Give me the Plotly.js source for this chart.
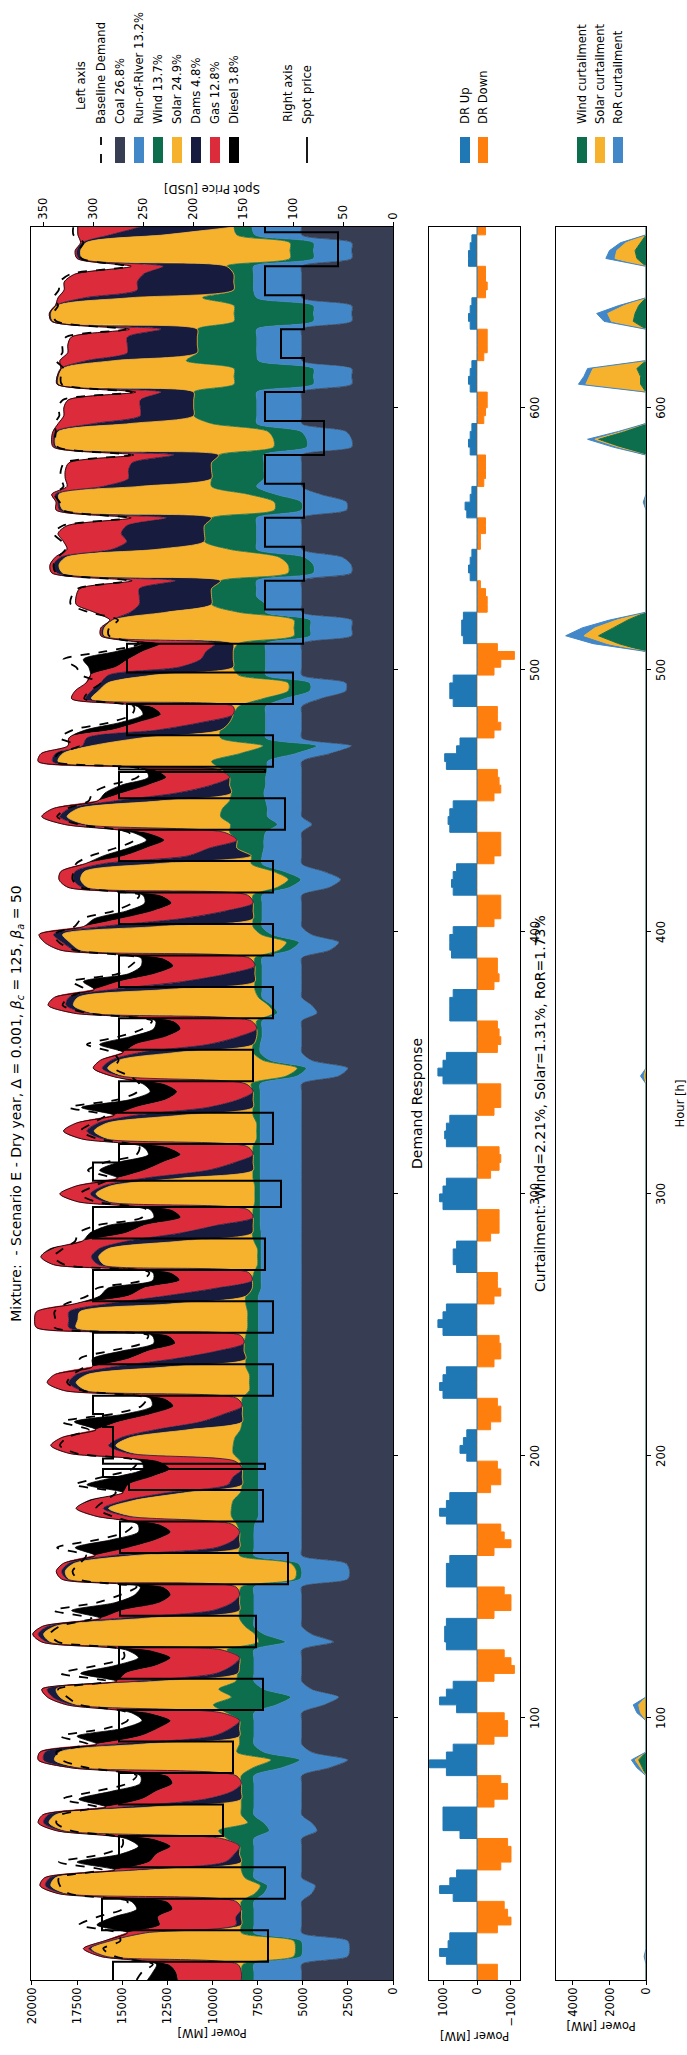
<!DOCTYPE html>
<html><head><meta charset="utf-8">
<script src="https://cdn.plot.ly/plotly-3.0.1.min.js"></script>
<style>
html,body{margin:0;padding:0;width:687px;height:2055px;overflow:hidden;background:#fff;}
#wrap{position:absolute;left:0;top:0;width:2055px;height:687px;transform-origin:0 0;transform:translate(0px,2055px) rotate(-90deg);}
#chart{width:2055px;height:687px;}
</style></head><body><div id="wrap"><div id="chart"></div></div>
<script>
// ---- data: one row per day, samples every 3 hours (offsets 0,3,...,21) ----
const coal = [
5050,5050,5050,2500,2400,2500,5050,5050,
5050,5050,5050,4500,4300,5050,5050,5050,
5050,5050,5050,4200,4500,5050,5050,5050,
5050,5050,5050,3500,2500,4500,5050,5050,
5050,5050,5050,3800,3000,4500,5050,5050,
5050,5050,5050,3300,4500,5050,5050,5050,
5050,5050,5050,2500,2400,2600,5050,5050,
5050,5050,5050,5050,5050,5050,5050,5050,
5050,5050,5050,5050,5050,5050,5050,5050,
5050,5050,5050,5050,5050,5050,5050,5050,
5050,5050,5050,5050,5050,5050,5050,5050,
5050,5050,5050,5050,5050,5050,5050,5050,
5050,5050,5050,5050,5050,5050,5050,5050,
5050,5050,5050,5050,5050,5050,5050,5050,
5050,5050,5050,3000,2500,4500,5050,5050,
5050,5050,5050,4200,4500,5050,5050,5050,
5050,5050,5050,3500,3000,4500,5050,5050,
5050,5050,5050,3500,2900,3800,5050,5050,
5050,5050,5050,4500,5050,5050,5050,5050,
5050,5050,5050,5050,3500,2300,5050,5050,
5050,5050,5050,4000,2600,2600,5050,5050,
5050,5050,5050,2280,2280,2280,5050,5050,
5050,5050,5050,2300,2300,2800,5050,5050,
5050,5050,5050,2560,2560,4000,5050,5050,
5050,5050,5050,2280,2280,2600,5050,5050,
5050,5050,5050,2280,2280,2280,5050,5050,
5050,5050,5050,2280,2280,2280,5050,5050,
5050,5050,5050,2280,2280,2280,5050,5050];
const ror = [
2650,2650,2650,2600,2600,2600,2650,2650,
2650,2650,2650,2650,2650,2650,2650,2650,
2650,2650,2650,2650,2650,2650,2650,2650,
2650,2650,2650,2650,2650,2650,2650,2650,
2650,2650,2650,2650,2650,2650,2650,2650,
2650,2650,2650,2650,2650,2650,2650,2650,
2650,2650,2650,2650,2650,2650,2650,2650,
2650,2650,2600,2400,2400,2400,2400,2400,
2400,2400,2400,2400,2400,2400,2400,2400,
2400,2400,2400,2400,2400,2400,2400,2400,
2400,2400,2400,2400,2400,2400,2400,2400,
2250,2250,2250,2250,2250,2250,2250,2250,
2300,2300,2300,2300,2300,2300,2300,2300,
2300,2300,2300,2300,2300,2300,2300,2300,
2300,2300,2300,2300,2300,2300,2300,2300,
2200,2200,2200,2200,2200,2200,2200,2200,
2200,2200,2200,2200,2200,2200,2200,2200,
2200,2200,2200,2200,2200,2200,2200,2200,
2100,2100,2000,1900,1900,1900,2000,2100,
2000,2000,1900,1900,1900,1900,2000,2000,
2000,2000,2000,2000,2000,2000,2000,2000,
2000,2000,2000,2300,2300,2300,2000,2000,
2500,2500,2500,2100,2100,2100,2500,2500,
2500,2500,2500,2500,2500,2500,2500,2100,
2100,2100,2100,2490,2490,2490,2490,2490,
2490,2490,2490,2120,2120,2120,2400,2490,
2490,2490,2490,2120,2120,2120,2500,2670,
2670,2670,2670,2120,2120,2120,2600,2760];
const wind = [
700,700,600,400,400,400,700,700,
700,700,700,500,400,500,700,700,
800,800,1500,2800,900,700,700,700,
700,700,700,1600,1600,1500,800,800,
800,800,1500,3500,3300,2500,1000,900,
800,800,1500,1500,500,500,800,800,
800,800,700,300,300,400,800,800,
800,800,1000,1500,1500,1400,1000,900,
900,900,1000,1400,1400,1300,1000,900,
900,900,900,500,500,500,700,700,
800,800,700,600,600,600,700,700,
500,500,400,200,200,200,400,500,
400,400,400,300,300,300,400,400,
400,400,400,200,200,200,400,400,
400,400,500,600,500,400,400,400,
300,300,300,200,200,200,400,400,
400,400,400,600,700,600,500,500,
500,500,500,700,700,600,600,600,
1500,1500,2000,2600,2600,2500,2000,1800,
2000,2000,2500,3100,3100,3000,2500,2500,
2000,1800,1500,1200,1200,1200,1500,1800,
1800,1800,1500,900,900,900,1500,3000,
2500,2500,2000,1400,1400,1400,1500,2900,
2900,2900,2500,1500,1500,1500,2500,2900,
2900,2900,2500,1840,1840,1840,2500,3500,
3500,3500,3500,4400,4400,4400,4000,3300,
3300,3300,3300,4400,4400,4400,3000,1100,
1100,1100,1500,1300,1300,1300,1000,1000];
const solar = [
0,0,300,10300,11300,10000,5100,0,
0,0,300,10400,11600,10500,5200,0,
0,0,300,8500,11000,10300,5000,0,
0,0,300,9500,12000,9800,5400,0,
0,0,300,7500,9500,9000,4300,0,
0,0,300,11500,11700,10500,5300,0,
0,0,300,12500,12800,12000,5800,0,
0,0,300,5500,6800,5500,3000,0,
0,0,300,5500,6500,5800,2900,0,
0,0,300,9000,9600,9000,4300,0,
0,0,300,9500,9400,9300,4200,0,
0,0,300,8500,8800,8300,4000,0,
0,0,300,8000,8800,8000,4000,0,
0,0,300,8200,9000,8300,4000,0,
0,0,300,9000,10500,8000,4200,0,
0,0,300,10000,10800,10000,4900,0,
0,0,300,11000,12000,11000,5400,0,
0,0,300,10500,11500,10500,5200,0,
0,0,300,8000,8500,8000,3800,0,
0,0,300,8500,9800,9500,4400,0,
0,0,300,9500,10500,10000,4700,0,
0,0,300,10500,10500,10000,4000,0,
0,0,0,12500,12700,11800,4000,0,
0,0,0,11700,11900,10500,4000,0,
0,0,0,12000,12100,11600,4500,0,
0,0,0,9700,9700,9500,4000,0,
0,0,0,10000,10130,9800,4000,0,
0,0,0,11500,11600,11300,4000,0];
const dams = [
0,0,0,100,150,150,200,300,
300,0,0,200,300,300,800,900,
300,0,0,200,300,400,1500,2000,
500,0,0,300,600,800,1500,1500,
500,0,0,300,400,500,1300,1200,
400,0,0,200,300,400,1400,1500,
400,0,0,100,200,300,1200,1300,
300,0,0,300,300,500,1000,800,
500,0,0,300,400,500,1800,2300,
1000,0,0,300,400,600,3000,4000,
1500,0,0,400,500,600,3500,4500,
2000,0,0,300,400,500,3000,4000,
2000,0,0,300,300,400,2000,2500,
1000,0,0,300,400,500,2500,2500,
800,0,0,200,300,400,2000,2500,
1000,0,0,300,400,500,3000,4000,
1500,0,0,300,400,500,3000,4000,
1500,0,0,300,400,500,3000,3500,
1500,0,0,300,400,500,2500,3000,
1000,0,0,300,400,500,3000,3500,
1500,0,0,300,400,400,2500,3000,
1800,1500,1000,100,100,100,2000,4000,
4000,4000,2500,300,300,300,2500,4300,
4600,4300,2500,200,100,200,2000,4600,
4600,4400,2500,100,100,150,2000,2950,
2950,2950,1800,100,100,100,1500,3870,
3870,3870,2000,100,100,100,2500,5340,
5340,5000,3500,200,200,200,3000,5150];
const gas = [
3500,3600,3800,300,300,300,1000,4200,
4300,3800,3800,300,300,300,1000,4200,
4300,3800,3800,300,300,300,1000,3500,
4200,3800,3800,300,300,300,1000,4000,
4000,3800,4000,300,300,300,1000,5000,
4200,3800,4000,300,300,300,1000,5000,
4000,3800,4000,300,300,300,1000,4800,
4300,3800,4000,1700,1500,1800,2500,5500,
4500,4000,4200,3300,3200,3300,3300,4500,
4000,3800,4000,1000,1200,1200,1200,2500,
3800,3800,4000,1800,1900,1800,1800,2000,
4000,4000,4300,2500,2800,2500,2500,3000,
4000,4000,4200,1500,1700,1500,1500,3500,
4000,4000,4500,1200,1300,1200,1200,4000,
4000,4200,4500,500,500,600,1000,4000,
4000,4200,4300,800,1000,800,1000,3500,
4000,4500,4800,800,1000,800,1000,3300,
4000,4500,4800,800,800,800,1000,3500,
3500,4000,4300,900,1000,900,1000,3000,
3500,3500,3500,800,800,800,1000,2500,
3500,4000,4500,800,900,800,1000,3500,
4000,3500,3000,100,100,100,2000,3500,
3500,3300,2400,300,200,300,2500,3500,
3500,3300,1950,200,100,200,2000,3500,
3500,3500,2200,100,100,150,2000,4240,
4240,4000,1410,0,0,0,1500,3300,
3300,3100,1760,0,0,0,1500,4050,
4050,3800,1780,100,100,100,1800,3500];
const diesel = [
1700,1300,700,0,0,0,0,3500,
2500,2000,2000,0,0,0,0,4000,
2000,1800,1500,0,0,0,0,3500,
2500,1800,1500,0,0,0,0,3500,
2000,1600,1000,0,0,0,0,2500,
2300,1800,1300,0,0,0,0,2800,
2500,2000,1300,0,0,0,0,3000,
2500,1800,1200,0,0,200,0,2300,
2000,1500,1000,0,0,0,0,2500,
1500,1200,800,0,0,0,0,2000,
1500,1200,900,0,0,0,0,1600,
2000,1500,1000,0,0,200,0,2000,
2000,1500,1200,0,0,0,0,2500,
2500,1800,1300,0,0,0,0,3000,
2000,1500,1200,0,0,0,0,2000,
2000,1500,1000,0,0,0,0,2000,
1500,1800,1200,0,0,0,0,1500,
1500,1500,1000,0,0,0,0,1200,
1000,1000,800,0,0,0,0,1000,
1500,1000,500,0,0,0,0,1500,
1000,1000,800,0,0,0,0,1500,
2500,1500,1000,0,0,0,0,0,
0,0,0,0,0,0,0,0,
0,0,0,0,0,0,0,0,
0,0,0,0,0,0,0,0,
0,0,0,0,0,0,0,0,
0,0,0,0,0,0,0,0,
0,0,0,0,0,0,0,0];
const baselineDemand = [
14200,13900,13300,15400,16050,15100,15300,17400,
16400,15000,14700,17950,18450,18500,16100,18500,
16100,15000,15000,17850,18650,18400,16400,18300,
16500,14700,14200,16950,18350,18650,16900,18400,
15900,14700,14700,17350,18050,18550,15800,18400,
16400,14900,15000,18550,19000,18450,16700,18800,
16400,15100,14200,17450,17750,17350,17000,18600,
16400,14800,14350,15550,16450,15950,15350,17650,
16050,14450,14150,17550,18450,18050,16850,18350,
15550,13950,13650,17250,18050,17750,17150,17350,
15750,13900,13550,18750,18700,18750,18150,16950,
16400,13900,13500,18200,18800,18300,17600,17450,
16400,13900,13650,16450,17350,16550,15650,16900,
15950,14200,14050,16350,17300,16650,15950,17950,
15250,14150,14050,14600,15450,15200,15550,16950,
15200,13850,13350,16900,18300,17950,17050,17800,
15250,14550,14150,17650,18500,18800,17650,17250,
15450,14450,14050,17300,17750,17700,17550,16750,
15350,14350,14650,17400,18600,18050,16850,16650,
15700,14150,13950,18750,18550,17400,18450,17750,
15650,14450,14350,17100,16800,16200,17250,17550,
18250,15950,14050,15730,15730,15230,16850,17850,
17800,17450,14650,18650,18800,18550,18150,18350,
18800,18300,14700,18310,18460,18750,18250,18400,
18400,18200,14550,18560,18710,18680,18740,18480,
18530,18290,14450,18350,18400,18250,18650,18310,
18310,18110,14800,18650,18830,18550,18800,18510,
18460,17870,14700,17250,17400,17150,17700,17710];
// demand response, held for 3 h from each sample (step curve)
const drUp = [
0,0,900,1100,850,800,0,0,
0,0,700,1100,800,600,0,0,
0,0,500,1000,1000,1000,0,0,
0,0,900,1400,900,700,0,0,
0,0,600,1100,900,700,0,0,
0,0,900,950,950,900,0,0,
0,0,900,900,900,800,0,0,
0,0,900,1100,900,800,0,0,
0,0,300,500,400,300,0,0,
0,0,1000,1100,1000,900,0,0,
0,0,1000,1150,1000,900,0,0,
0,0,600,700,700,600,0,0,
0,0,1000,1100,1000,900,0,0,
0,0,900,950,900,800,0,0,
0,0,1000,1150,1000,900,0,0,
0,0,800,800,800,700,0,0,
0,0,750,800,800,700,0,0,
0,0,700,750,700,600,0,0,
0,0,800,850,800,700,0,0,
0,0,900,950,600,500,0,0,
0,0,700,800,800,700,0,0,
0,0,400,450,450,400,0,0,
0,0,200,250,200,150,0,0,
0,0,300,350,200,150,0,0,
0,0,200,250,200,150,0,0,
0,0,200,250,200,150,0,0,
0,0,200,250,200,150,0,0,
0,0,250,250,200,150,0,0];
const drDown = [
-600,-600,0,0,0,0,-600,-1000,
-900,-800,0,0,0,0,-700,-1000,
-1000,-900,0,0,0,0,-500,-900,
-900,-700,0,0,0,0,-500,-900,
-900,-800,0,0,0,0,-500,-1100,
-1000,-800,0,0,0,0,-500,-1000,
-1000,-800,0,0,0,0,-500,-1000,
-800,-700,0,0,0,0,-400,-700,
-700,-600,0,0,0,0,-400,-700,
-700,-600,0,0,0,0,-500,-700,
-700,-650,0,0,0,0,-500,-700,
-600,-600,0,0,0,0,-400,-650,
-650,-650,0,0,0,0,-400,-650,
-700,-650,0,0,0,0,-500,-700,
-700,-700,0,0,0,0,-600,-700,
-650,-600,0,0,0,0,-500,-650,
-600,-600,0,0,0,0,-500,-700,
-700,-700,0,0,0,0,-500,-700,
-700,-700,0,0,0,0,-500,-700,
-650,-600,0,0,0,0,-500,-700,
-600,-600,0,0,0,0,-500,-700,
-1100,-600,0,0,0,0,-300,-300,
-250,-100,0,0,0,0,-100,-100,
-250,-250,0,0,0,0,-200,-250,
-250,-250,0,0,0,0,-200,-250,
-300,-300,0,0,0,0,-200,-300,
-300,-300,0,0,0,0,-250,-300,
-250,-250,0,0,0,0,-250,-250];
// spot price: change points (hour, USD), drawn as steps
const priceHours = [0,7,19,24,31,43,48,55,67,72,79,91,96,103,115,120,127,139,144,151,163,168,175,187,
192,195,197,199,211,216,223,235,240,247,259,264,271,283,288,295,305,312,319,331,336,343,355,360,367,379,
384,391,403,408,415,427,432,439,451,456,461,462,463,475,480,487,499,504,510,523,528,534,547,552,558,571,
576,582,595,600,606,619,624,630,643,648,654,667,669];
const priceUSD = [280,125,291,291,108,274,274,170,274,274,160,274,274,130,274,274,137,273,273,105,273,273,130,264,
290,128,290,280,290,300,120,300,300,120,300,300,128,300,300,112,300,274,120,274,274,140,274,274,120,274,
274,120,274,274,120,274,274,108,274,274,128,274,120,266,266,100,266,266,90,128,128,89,128,128,89,128,
128,69,128,128,89,112,112,89,128,128,55,128,128];
// curtailment (sparse readings, MW)
const curtHours = [0,6,9,12,78,81,84,87,99,102,105,108,342,345,348,507,510,513,516,519,522,561,564,567,
582,585,588,591,594,606,609,612,615,618,630,633,636,639,642,654,657,660,663,666,669];
const curtWind  = [0,0,0,0,0,200,400,0,0,0,0,0,0,0,0,0,1500,2600,1800,1000,0,0,0,0,
0,1500,2600,1200,0,0,300,300,500,0,0,700,600,400,0,0,500,600,300,0,0];
const curtSolar = [0,0,0,0,0,100,200,0,0,300,400,0,0,100,0,0,600,800,1000,600,0,0,0,0,
0,0,200,100,0,0,3000,2800,2400,0,0,1200,1500,800,0,0,1200,1000,800,0,0];
const curtRoR   = [0,0,100,0,0,200,200,0,0,200,300,0,0,200,0,0,800,1000,700,400,0,0,150,0,
0,300,400,200,0,0,400,300,300,0,0,400,600,300,0,0,500,400,300,0,0];
const hourTicks = [100,200,300,400,500,600];
const powerTicks = [0,2500,5000,7500,10000,12500,15000,17500,20000];
const priceTicks = [0,50,100,150,200,250,300,350];
const genNames = ['Coal 26.8%','Run-of-River 13.2%','Wind 13.7%','Solar 24.9%','Dams 4.8%','Gas 12.8%','Diesel 3.8%'];
const genColors = ['#373d52','#4287c7','#0d6e4e','#f6b12d','#171b3e','#dc2b3b','#000000'];

// ---- build ----
const hours = coal.map((v,i)=>i*3);
const FONT = 'DejaVu Sans, Verdana, sans-serif';
const traces = [];
[coal,ror,wind,solar,dams,gas,diesel].forEach((arr,k)=>{
  traces.push({x:hours,y:arr,type:'scatter',mode:'lines',stackgroup:'gen',name:genNames[k],
    fillcolor:genColors[k],line:{color:genColors[k],width:0.8,shape:'spline',smoothing:0.8},
    xaxis:'x',yaxis:'y',hoverinfo:'skip'});
});
traces.push({x:hours,y:baselineDemand,type:'scatter',mode:'lines',name:'Baseline Demand',
  line:{color:'#000',width:1.8,dash:'dash',shape:'spline',smoothing:0.8},xaxis:'x',yaxis:'y',hoverinfo:'skip'});
traces.push({x:priceHours,y:priceUSD,type:'scatter',mode:'lines',name:'Spot price',
  line:{color:'#000',width:2,shape:'hv'},xaxis:'x',yaxis:'y2',hoverinfo:'skip'});
traces.push({x:hours,y:drDown,type:'scatter',mode:'lines',fill:'tozeroy',name:'DR Down',
  fillcolor:'#ff7f0e',line:{color:'#ff7f0e',width:1,shape:'hv'},xaxis:'x2',yaxis:'y3',hoverinfo:'skip'});
traces.push({x:hours,y:drUp,type:'scatter',mode:'lines',fill:'tozeroy',name:'DR Up',
  fillcolor:'#1f77b4',line:{color:'#1f77b4',width:1,shape:'hv'},xaxis:'x2',yaxis:'y3',hoverinfo:'skip'});
[[curtWind,'#0d6e4e'],[curtSolar,'#f6b12d'],[curtRoR,'#4287c7']].forEach(([arr,c])=>{
  traces.push({x:curtHours,y:arr,type:'scatter',mode:'lines',stackgroup:'curt',
    fillcolor:c,line:{color:c,width:1},xaxis:'x3',yaxis:'y4',hoverinfo:'skip'});
});

// geometry (pixels in the unrotated 2055x687 figure)
const W=2055,Hh=687,L=75,R=227,T=31,B=41;
const PW=W-L-R, PH=Hh-T-B;
const px = xo => (xo-L)/PW;
const py = yo => 1-(yo-T)/PH;

const axBase = {showline:true,mirror:true,linecolor:'#000',linewidth:1,ticks:'outside',ticklen:4,
  tickwidth:1,tickcolor:'#000',showgrid:false,zeroline:false,tickfont:{size:11.6,family:FONT,color:'#000'}};
const xCommon = Object.assign({},axBase,{range:[0,669],tickmode:'array',tickvals:hourTicks,domain:[0,1]});

const shapes=[], annotations=[];
// legends drawn as patches + labels
const hx0=px(1892), hx1=px(1918), tx=px(1929), hh=5;
function legText(yo,label,xx){
  annotations.push({xref:'paper',yref:'paper',x:xx===undefined?tx:xx,y:py(yo),text:label,showarrow:false,
    xanchor:'left',yanchor:'middle',font:{size:11.6,family:FONT,color:'#000'}});
}
function legPatch(yo,color,label){
  shapes.push({type:'rect',xref:'paper',yref:'paper',x0:hx0,x1:hx1,y0:py(yo+hh),y1:py(yo-hh),
    fillcolor:color,line:{width:0}});
  legText(yo,label);
}
function legLine(yo,dash,label){
  shapes.push({type:'line',xref:'paper',yref:'paper',x0:hx0,x1:hx1,y0:py(yo),y1:py(yo),
    line:{color:'#000',width:1.8,dash:dash}});
  legText(yo,label);
}
legText(81,'Left axis',px(1943));
legLine(101,'dash','Baseline Demand');
const legRows=[120,139,158,177,196,215,234];
genNames.forEach((n,k)=>legPatch(legRows[k],genColors[k],n));
legText(288,'Right axis',px(1931));
legLine(307,'solid','Spot price');
legPatch(465,'#1f77b4','DR Up');
legPatch(483,'#ff7f0e','DR Down');
legPatch(582,'#0d6e4e','Wind curtailment');
legPatch(600,'#f6b12d','Solar curtailment');
legPatch(618,'#4287c7','RoR curtailment');

annotations.push({xref:'paper',yref:'paper',x:0.5,y:py(417),text:'Demand Response',showarrow:false,
  xanchor:'center',yanchor:'middle',font:{size:14,family:FONT,color:'#000'}});
annotations.push({xref:'paper',yref:'paper',x:0.5,y:py(540),text:'Curtailment: Wind=2.21%, Solar=1.31%, RoR=1.73%',
  showarrow:false,xanchor:'center',yanchor:'middle',font:{size:14,family:FONT,color:'#000'}});

const layout = {
  width:W,height:Hh,margin:{l:L,r:R,t:T,b:B,pad:0},
  paper_bgcolor:'#fff',plot_bgcolor:'#fff',showlegend:false,
  font:{family:FONT,size:11.6,color:'#000'},
  title:{text:'Mixture:\u00a0\u00a0- Scenario E - Dry year, \u0394 = 0.001, <i>\u03b2</i><sub><i>c</i></sub> = 125, <i>\u03b2</i><sub><i>a</i></sub> = 50',
    x:0.5,xref:'paper',xanchor:'center',y:1-16/Hh,yref:'container',yanchor:'middle',
    font:{size:14,family:FONT,color:'#000'}},
  xaxis:Object.assign({},xCommon,{anchor:'y',showticklabels:false}),
  yaxis:Object.assign({},axBase,{domain:[py(393),1],anchor:'x',range:[0,20050],tickmode:'array',tickvals:powerTicks,
    tickformat:'d',title:{text:'Power [MW]',font:{size:11.6,family:FONT}}}),
  yaxis2:Object.assign({},axBase,{overlaying:'y',side:'right',anchor:'x',range:[0,362],tickmode:'array',
    tickvals:priceTicks,mirror:false,title:{text:'Spot Price [USD]',font:{size:11.6,family:FONT}}}),
  xaxis2:Object.assign({},xCommon,{anchor:'y3',matches:'x',showticklabels:true}),
  yaxis3:Object.assign({},axBase,{domain:[py(520),py(429)],anchor:'x2',range:[-1265,1412],tickmode:'array',
    tickvals:[-1000,0,1000],tickformat:'d',title:{text:'Power [MW]',font:{size:11.6,family:FONT}}}),
  xaxis3:Object.assign({},xCommon,{anchor:'y4',matches:'x',showticklabels:true,
    title:{text:'Hour [h]',font:{size:11.6,family:FONT}}}),
  yaxis4:Object.assign({},axBase,{domain:[0,py(556)],anchor:'x3',range:[0,4930],tickmode:'array',
    tickvals:[0,2000,4000],tickformat:'d',title:{text:'Power [MW]',font:{size:11.6,family:FONT}}}),
  shapes:shapes,annotations:annotations
};
Plotly.newPlot('chart',traces,layout,{staticPlot:true,displayModeBar:false});
</script></body></html>
